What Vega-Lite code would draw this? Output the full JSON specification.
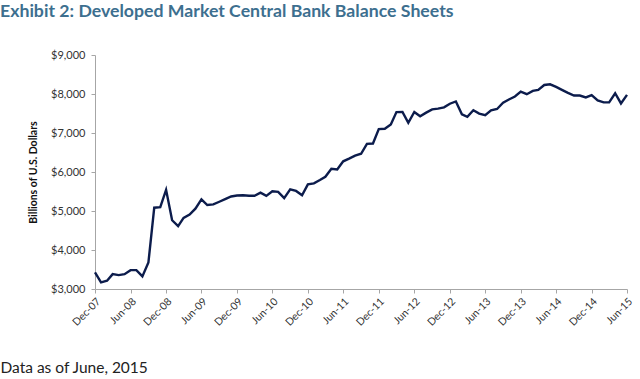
{
  "$schema": "https://vega.github.io/schema/vega-lite/v6.json",
  "width": 532,
  "height": 234,
  "autosize": "none",
  "padding": {"left": 95, "top": 55, "right": 13, "bottom": 90},
  "background": "white",
  "title": {
    "text": "Exhibit 2: Developed Market Central Bank Balance Sheets",
    "anchor": "start",
    "frame": "group",
    "dx": -95,
    "offset": 28,
    "font": "Lato",
    "fontSize": 17.7,
    "fontWeight": "bold",
    "color": "#3d6f8f"
  },
  "config": {
    "view": {"stroke": null},
    "font": "Lato"
  },
  "data": {
    "format": {"parse": {"date": "utc:'%Y-%m-%d'"}},
    "values": [
      {"date": "2007-12-01", "value": 3424},
      {"date": "2008-01-01", "value": 3170},
      {"date": "2008-02-01", "value": 3212},
      {"date": "2008-03-01", "value": 3381},
      {"date": "2008-04-01", "value": 3356},
      {"date": "2008-05-01", "value": 3381},
      {"date": "2008-06-01", "value": 3483},
      {"date": "2008-07-01", "value": 3483},
      {"date": "2008-08-01", "value": 3322},
      {"date": "2008-09-01", "value": 3678},
      {"date": "2008-10-01", "value": 5085},
      {"date": "2008-11-01", "value": 5100},
      {"date": "2008-12-01", "value": 5542},
      {"date": "2009-01-01", "value": 4763},
      {"date": "2009-02-01", "value": 4610},
      {"date": "2009-03-01", "value": 4822},
      {"date": "2009-04-01", "value": 4907},
      {"date": "2009-05-01", "value": 5060},
      {"date": "2009-06-01", "value": 5297},
      {"date": "2009-07-01", "value": 5153},
      {"date": "2009-08-01", "value": 5170},
      {"date": "2009-09-01", "value": 5237},
      {"date": "2009-10-01", "value": 5305},
      {"date": "2009-11-01", "value": 5373},
      {"date": "2009-12-01", "value": 5398},
      {"date": "2010-01-01", "value": 5405},
      {"date": "2010-02-01", "value": 5390},
      {"date": "2010-03-01", "value": 5390},
      {"date": "2010-04-01", "value": 5470},
      {"date": "2010-05-01", "value": 5388},
      {"date": "2010-06-01", "value": 5506},
      {"date": "2010-07-01", "value": 5490},
      {"date": "2010-08-01", "value": 5329},
      {"date": "2010-09-01", "value": 5557},
      {"date": "2010-10-01", "value": 5514},
      {"date": "2010-11-01", "value": 5405},
      {"date": "2010-12-01", "value": 5684},
      {"date": "2011-01-01", "value": 5709},
      {"date": "2011-02-01", "value": 5793},
      {"date": "2011-03-01", "value": 5878},
      {"date": "2011-04-01", "value": 6081},
      {"date": "2011-05-01", "value": 6063},
      {"date": "2011-06-01", "value": 6274},
      {"date": "2011-07-01", "value": 6342},
      {"date": "2011-08-01", "value": 6418},
      {"date": "2011-09-01", "value": 6468},
      {"date": "2011-10-01", "value": 6720},
      {"date": "2011-11-01", "value": 6730},
      {"date": "2011-12-01", "value": 7099},
      {"date": "2012-01-01", "value": 7108},
      {"date": "2012-02-01", "value": 7217},
      {"date": "2012-03-01", "value": 7536},
      {"date": "2012-04-01", "value": 7540},
      {"date": "2012-05-01", "value": 7261},
      {"date": "2012-06-01", "value": 7540},
      {"date": "2012-07-01", "value": 7430},
      {"date": "2012-08-01", "value": 7522},
      {"date": "2012-09-01", "value": 7607},
      {"date": "2012-10-01", "value": 7624},
      {"date": "2012-11-01", "value": 7658},
      {"date": "2012-12-01", "value": 7751},
      {"date": "2013-01-01", "value": 7810},
      {"date": "2013-02-01", "value": 7481},
      {"date": "2013-03-01", "value": 7413},
      {"date": "2013-04-01", "value": 7582},
      {"date": "2013-05-01", "value": 7498},
      {"date": "2013-06-01", "value": 7455},
      {"date": "2013-07-01", "value": 7582},
      {"date": "2013-08-01", "value": 7616},
      {"date": "2013-09-01", "value": 7775},
      {"date": "2013-10-01", "value": 7860},
      {"date": "2013-11-01", "value": 7936},
      {"date": "2013-12-01", "value": 8063},
      {"date": "2014-01-01", "value": 7995},
      {"date": "2014-02-01", "value": 8080},
      {"date": "2014-03-01", "value": 8105},
      {"date": "2014-04-01", "value": 8231},
      {"date": "2014-05-01", "value": 8248},
      {"date": "2014-06-01", "value": 8181},
      {"date": "2014-07-01", "value": 8105},
      {"date": "2014-08-01", "value": 8029},
      {"date": "2014-09-01", "value": 7961},
      {"date": "2014-10-01", "value": 7961},
      {"date": "2014-11-01", "value": 7911},
      {"date": "2014-12-01", "value": 7970},
      {"date": "2015-01-01", "value": 7835},
      {"date": "2015-02-01", "value": 7784},
      {"date": "2015-03-01", "value": 7784},
      {"date": "2015-04-01", "value": 8020},
      {"date": "2015-05-01", "value": 7759},
      {"date": "2015-06-01", "value": 7978}
    ]
  },
  "mark": {"type": "line", "color": "#0c1c4c", "strokeWidth": 2.4, "strokeJoin": "miter"},
  "encoding": {
    "x": {
      "field": "date",
      "type": "temporal",
      "scale": {
        "type": "utc",
        "nice": false,
        "domain": [
          {"year": 2007, "month": 12, "date": 1, "utc": true},
          {"year": 2015, "month": 6, "date": 1, "utc": true}
        ]
      },
      "axis": {
        "values": [
          {"year": 2007, "month": 12, "date": 1, "utc": true},
          {"year": 2008, "month": 6, "date": 1, "utc": true},
          {"year": 2008, "month": 12, "date": 1, "utc": true},
          {"year": 2009, "month": 6, "date": 1, "utc": true},
          {"year": 2009, "month": 12, "date": 1, "utc": true},
          {"year": 2010, "month": 6, "date": 1, "utc": true},
          {"year": 2010, "month": 12, "date": 1, "utc": true},
          {"year": 2011, "month": 6, "date": 1, "utc": true},
          {"year": 2011, "month": 12, "date": 1, "utc": true},
          {"year": 2012, "month": 6, "date": 1, "utc": true},
          {"year": 2012, "month": 12, "date": 1, "utc": true},
          {"year": 2013, "month": 6, "date": 1, "utc": true},
          {"year": 2013, "month": 12, "date": 1, "utc": true},
          {"year": 2014, "month": 6, "date": 1, "utc": true},
          {"year": 2014, "month": 12, "date": 1, "utc": true},
          {"year": 2015, "month": 6, "date": 1, "utc": true}
        ],
        "labelExpr": "utcFormat(datum.value, '%b-%y')",
        "labelAngle": -45,
        "labelAlign": "right",
        "labelBaseline": "top",
        "labelFontSize": 10.5,
        "labelColor": "#333333",
        "labelPadding": 3,
        "labelOverlap": false,
        "labelFlush": false,
        "grid": false,
        "domainColor": "#a6a6a6",
        "tickColor": "#a6a6a6",
        "tickSize": 4,
        "title": "Data as of June, 2015",
        "titleAnchor": "start",
        "titleAlign": "left",
        "titleX": -95,
        "titleY": 83,
        "titleBaseline": "alphabetic",
        "titleFont": "Lato",
        "titleFontSize": 15.5,
        "titleFontWeight": "normal",
        "titleColor": "#222222"
      }
    },
    "y": {
      "field": "value",
      "type": "quantitative",
      "scale": {"domain": [3000, 9000], "nice": false, "zero": false},
      "axis": {
        "values": [3000, 4000, 5000, 6000, 7000, 8000, 9000],
        "format": "$,.0f",
        "labelFontSize": 11,
        "labelColor": "#333333",
        "labelPadding": 6,
        "grid": false,
        "domainColor": "#a6a6a6",
        "tickColor": "#a6a6a6",
        "tickSize": 4,
        "title": "Billions of U.S. Dollars",
        "titleFontSize": 10.5,
        "titleFontWeight": "bold",
        "titleColor": "#111111",
        "titleX": -62,
        "titleY": 117,
        "titleAngle": -90,
        "titleAlign": "center",
        "titleBaseline": "middle"
      }
    }
  }
}
